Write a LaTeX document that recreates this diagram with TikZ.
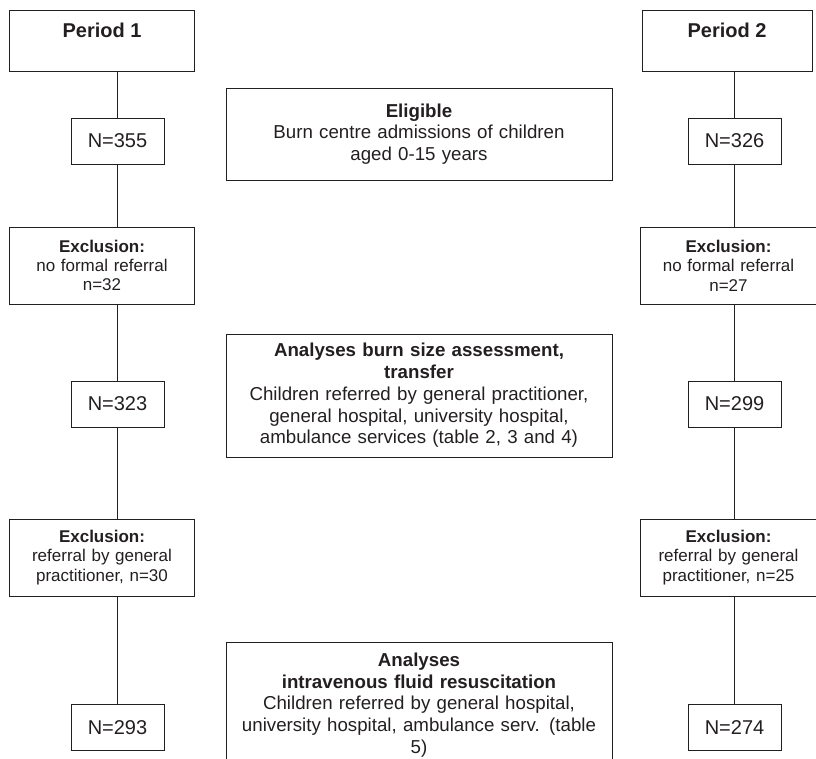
\documentclass[tikz,border=0pt]{standalone}
\usepackage{fontspec}
\setmainfont{Liberation Sans}
\usepackage{xcolor}
\usepackage{tikz}
\usetikzlibrary{positioning}
\definecolor{fcLine}{HTML}{231F20}

\begin{document}
\begin{tikzpicture}[
  x=1pt,y=-1pt,
  box/.style={draw=fcLine,line width=0.9pt,inner sep=0pt,align=center,text=fcLine},
  period/.style={box,minimum width=185.5pt,minimum height=61pt,
    font=\fontsize{20}{22}\selectfont\bfseries},
  count/.style={box,minimum width=93pt,minimum height=46pt,
    font=\fontsize{20}{24}\selectfont},
  excl/.style={box,minimum width=185.5pt,minimum height=77pt,text width=176pt,
    font=\fontsize{17}{19.4}\selectfont},
  info/.style={box,minimum width=386pt,text width=376pt,
    font=\fontsize{18.7}{21.7}\selectfont},
  link/.style={draw=fcLine,line width=0.9pt}
]
\useasboundingbox (0,0) rectangle (816,758);
\clip (0,0) rectangle (816,758);

\node[period] (per1) at (102,41) {Period 1\\ ~};
\node[count] (n355) at (117.5,141) {N=355};
\node[excl] (exc1) at (102,265.5) {\textbf{Exclusion:}\\no formal referral\\n=32};
\node[count] (n323) at (117.5,404) {N=323};
\node[excl] (exc3) at (102,557.5) {\textbf{Exclusion:}\\referral by general\\practitioner, n=30};
\node[count] (n293) at (117.5,727.5) {N=293};

\node[period,minimum width=170pt] (per2) at (727,41) {Period 2\\ ~};
\node[count] (n326) at (734.5,141) {N=326};
\node[excl,minimum width=173pt] (exc2) at (728.5,265.5) {\textbf{Exclusion:}\\no formal referral\\n=27};
\node[count] (n299) at (734.5,404) {N=299};
\node[excl,minimum width=173pt] (exc4) at (728.5,557.5) {\textbf{Exclusion:}\\referral by general\\practitioner, n=25};
\node[count] (n274) at (734.5,727.5) {N=274};

\node[info,minimum height=92pt] (elig) at (419,134) {\textbf{Eligible}\\
  Burn centre admissions of children\\aged 0-15 years};
\node[info,minimum height=123pt] (size) at (419,395.5) {\textbf{Analyses burn size assessment,}\\
  \textbf{transfer}\\Children referred by general practitioner,\\
  general hospital, university hospital,\\ambulance services (table 2, 3 and 4)};
\node[info,minimum height=126pt] (fluid) at (419,705) {\textbf{Analyses}\\
  \textbf{intravenous fluid resuscitation}\\Children referred by general hospital,\\
  university hospital, ambulance serv. (table\\5)};

\draw[link] (per1.south -| n355) -- (n355);
\draw[link] (n355) -- (exc1.north -| n355);
\draw[link] (exc1.south -| n323) -- (n323);
\draw[link] (n323) -- (exc3.north -| n323);
\draw[link] (exc3.south -| n293) -- (n293);

\draw[link] (per2.south -| n326) -- (n326);
\draw[link] (n326) -- (exc2.north -| n326);
\draw[link] (exc2.south -| n299) -- (n299);
\draw[link] (n299) -- (exc4.north -| n299);
\draw[link] (exc4.south -| n274) -- (n274);
\end{tikzpicture}
\end{document}
